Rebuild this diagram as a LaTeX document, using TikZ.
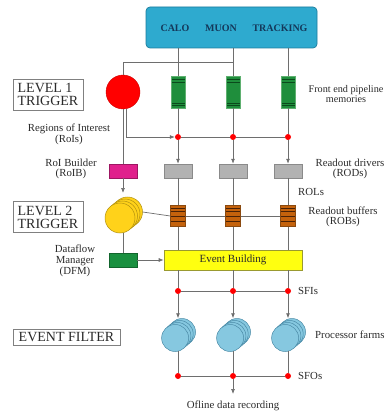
\documentclass[tikz,border=0pt]{standalone}
\usepackage{fontspec}
\setmainfont{Liberation Serif}
\usetikzlibrary{arrows.meta}
\definecolor{linegray}{HTML}{6E6E6E}
\definecolor{topblue}{HTML}{2EAACF}
\definecolor{topedge}{HTML}{1C7C9C}
\definecolor{toptext}{HTML}{14385A}
\definecolor{feGreen}{HTML}{1F8E3C}
\definecolor{feEdge}{HTML}{5FB070}
\definecolor{feLine}{HTML}{0B4A1C}
\definecolor{rodGray}{HTML}{B2B2B2}
\definecolor{rodEdge}{HTML}{8A8A8A}
\definecolor{roibMag}{HTML}{E0208C}
\definecolor{robOrange}{HTML}{C4620C}
\definecolor{robEdge}{HTML}{8A4A10}
\definecolor{robLine}{HTML}{4A2206}
\definecolor{l2Yellow}{HTML}{FFD21A}
\definecolor{l2Edge}{HTML}{B09010}
\definecolor{dfmGreen}{HTML}{1A9040}
\definecolor{ebYellow}{HTML}{FFFF10}
\definecolor{ebEdge}{HTML}{9A9A30}
\definecolor{farmBlue}{HTML}{86C8E0}
\definecolor{farmEdge}{HTML}{4A8AA6}
\definecolor{labtext}{HTML}{2A2A2A}
\begin{document}
\begin{tikzpicture}[x=1pt,y=-1pt,
  conn/.style={draw=linegray, line width=0.7pt},
  arr/.style={conn, -{Latex[length=5pt,width=4pt]}},
  lab/.style={font=\fontsize{10.8}{10.5}\selectfont, text=labtext, align=center, inner sep=0pt},
  labl/.style={lab, anchor=west, align=left},
  levelbox/.style={draw=gray, line width=0.6pt, fill=white, font=\fontsize{14}{13}\selectfont, text=labtext, align=left, inner sep=0pt},
  dotnode/.style={circle, fill=red, minimum size=6pt, inner sep=0pt},
  fembox/.style={draw=feEdge, line width=0.5pt, fill=feGreen, minimum width=14pt, minimum height=32pt, inner sep=0pt,
    path picture={
      \draw[feLine, line width=0.5pt] ([yshift=-3.5pt]path picture bounding box.north west) -- ([yshift=-3.5pt]path picture bounding box.north east);
      \draw[feLine, line width=0.5pt] ([yshift=-6pt]path picture bounding box.north west) -- ([yshift=-6pt]path picture bounding box.north east);
      \draw[feLine, line width=0.5pt] ([yshift=5pt]path picture bounding box.south west) -- ([yshift=5pt]path picture bounding box.south east);
      \draw[feLine, line width=0.5pt] ([yshift=2.5pt]path picture bounding box.south west) -- ([yshift=2.5pt]path picture bounding box.south east);
    }},
  rodbox/.style={draw=rodEdge, line width=0.5pt, fill=rodGray, minimum width=28pt, minimum height=14pt, inner sep=0pt},
  robbox/.style={draw=robEdge, line width=0.5pt, fill=robOrange, minimum width=15pt, minimum height=21pt, inner sep=0pt,
    path picture={
      \foreach \f in {2.8,6,11,16}{
        \draw[robLine, line width=0.7pt] ([yshift=-\f pt]path picture bounding box.north west) -- ([yshift=-\f pt]path picture bounding box.north east);}
    }},
  l2circ/.style={circle, draw=l2Edge, line width=0.5pt, fill=l2Yellow, minimum size=30pt, inner sep=0pt},
  farmcirc/.style={circle, draw=farmEdge, line width=0.5pt, fill=farmBlue, minimum size=27pt, inner sep=0pt},
]
\useasboundingbox (0,0) rectangle (387,414);

% top detector box
\node[draw=topedge, line width=0.7pt, fill=topblue, rounded corners=4pt, minimum width=171pt, minimum height=41pt, inner sep=0pt] (top) at (231.5,27.5) {};
\node[font=\bfseries\fontsize{10}{10}\selectfont, text=toptext, inner sep=0pt] (calo) at (175,28) {CALO};
\node[font=\bfseries\fontsize{10}{10}\selectfont, text=toptext, inner sep=0pt] (muon) at (221,28) {MUON};
\node[font=\bfseries\fontsize{10}{10}\selectfont, text=toptext, inner sep=0pt] (track) at (280,28) {TRACKING};

% level boxes
\node[levelbox, minimum width=70pt, minimum height=31pt] (lev1) at (48,94.5) {LEVEL 1\\TRIGGER};
\node[levelbox, minimum width=70pt, minimum height=31pt] (lev2) at (48,217) {LEVEL 2\\TRIGGER};
\node[levelbox, minimum width=107pt, minimum height=16pt] (evf) at (66.5,337) {EVENT FILTER};

% level 1
\node[circle, fill=red, draw=red!80!black, line width=0.4pt, minimum size=34pt, inner sep=0pt] (l1) at (123,92) {};
\foreach \i/\x in {1/178,2/233,3/288}{
  \node[fembox] (fe\i) at (\x,92) {};
  \node[dotnode] (d\i) at (\x,137) {};
  \node[rodbox] (rod\i) at (\x,171) {};
  \node[robbox] (rob\i) at (\x,216) {};
  \node[dotnode] (sfi\i) at (\x,291) {};
  \node[dotnode] (sfo\i) at (\x,376) {};
}
\node[draw=roibMag!70!black, line width=0.5pt, fill=roibMag, minimum width=28pt, minimum height=14pt, inner sep=0pt] (roib) at (123,171) {};

% level 2 stacked circles
\node[l2circ] (l2c) at (127.5,212) {};
\node[l2circ] (l2b) at (125,214) {};
\node[l2circ] (l2a) at (122.5,216) {};
\node[l2circ] (l2) at (120,218) {};

\node[draw=dfmGreen!70!black, line width=0.5pt, fill=dfmGreen, minimum width=28pt, minimum height=14pt, inner sep=0pt] (dfm) at (123,260) {};
\node[draw=ebEdge, line width=0.7pt, fill=ebYellow, minimum width=138pt, minimum height=20pt, inner sep=0pt, font=\fontsize{11}{11}\selectfont, text=labtext] (eb) at (233,260) {Event Building};

% farms
\foreach \i/\x in {1/178,2/233,3/288}{
  \node[farmcirc] (farm\i c) at (\x+4,332) {};
  \node[farmcirc] (farm\i b) at (\x+1.7,334) {};
  \node[farmcirc] (farm\i a) at (\x-0.6,336) {};
  \node[farmcirc] (farm\i) at (\x-2.9,338) {};
}
\coordinate (out) at (233,394);

% connectors
\foreach \i in {1,2,3}{
  \draw[conn] (top.south -| fe\i) -- (fe\i.north);
  \draw[conn] (fe\i.south) -- (d\i);
  \draw[arr] (d\i) -- (rod\i.north);
  \draw[conn] (rod\i.south) -- (rob\i.north);
  \draw[conn] (rob\i.south) -- (eb.north -| rob\i);
  \draw[conn] (eb.south -| sfi\i) -- (sfi\i);
  \draw[arr] (sfi\i) -- (sfi\i |- farm\i c.north);
  \draw[conn] (sfi\i |- farm\i.south) ++(0,-1) -- (sfo\i);
}
\draw[conn] (fe2 |- 0,62) -- (123,62) -- (l1.north);
\draw[conn] (l1.south) -- (roib.north);
\draw[arr] ([xshift=3pt]l1.south) |- (d1.west);
\draw[conn] (d1) -- (d2) -- (d3);
\draw[arr] (roib.south) -- (123,193);
\draw[conn] (l2c.east) -- (rob1.west);
\draw[conn] (rob1.east) -- (rob2.west);
\draw[conn] (rob2.east) -- (rob3.west);
\draw[conn] (l2.south -| dfm) -- (dfm.north);
\draw[arr] (dfm.east) -- (eb.west);
\draw[conn] (sfi1) -- (sfi2) -- (sfi3);
\draw[conn] (sfo1) -- (sfo2) -- (sfo3);
\draw[arr] (sfo2) -- (out);

% labels
\node[lab] (lroi) at (69,134.5) {Regions of Interest\\(RoIs)};
\node[lab] (lroib) at (71,169) {RoI Builder\\(RoIB)};
\node[lab] (ldfm) at (75,261) {Dataflow\\[0.8pt]Manager\\[0.8pt](DFM)};
\node[lab, font=\fontsize{10.2}{10}\selectfont] (lfe) at (346,94.5) {Front end pipeline\\memories};
\node[lab] (lrod) at (350,169) {Readout drivers\\(RODs)};
\node[labl] (lrol) at (298,192) {ROLs};
\node[lab] (lrob) at (343,217) {Readout buffers\\(ROBs)};
\node[labl] (lsfi) at (298,291) {SFIs};
\node[labl] (lpf) at (315,335) {Processor farms};
\node[labl] (lsfo) at (298,376) {SFOs};
\node[lab] (lout) at (233,406) {Ofline data recording};
\end{tikzpicture}
\end{document}
